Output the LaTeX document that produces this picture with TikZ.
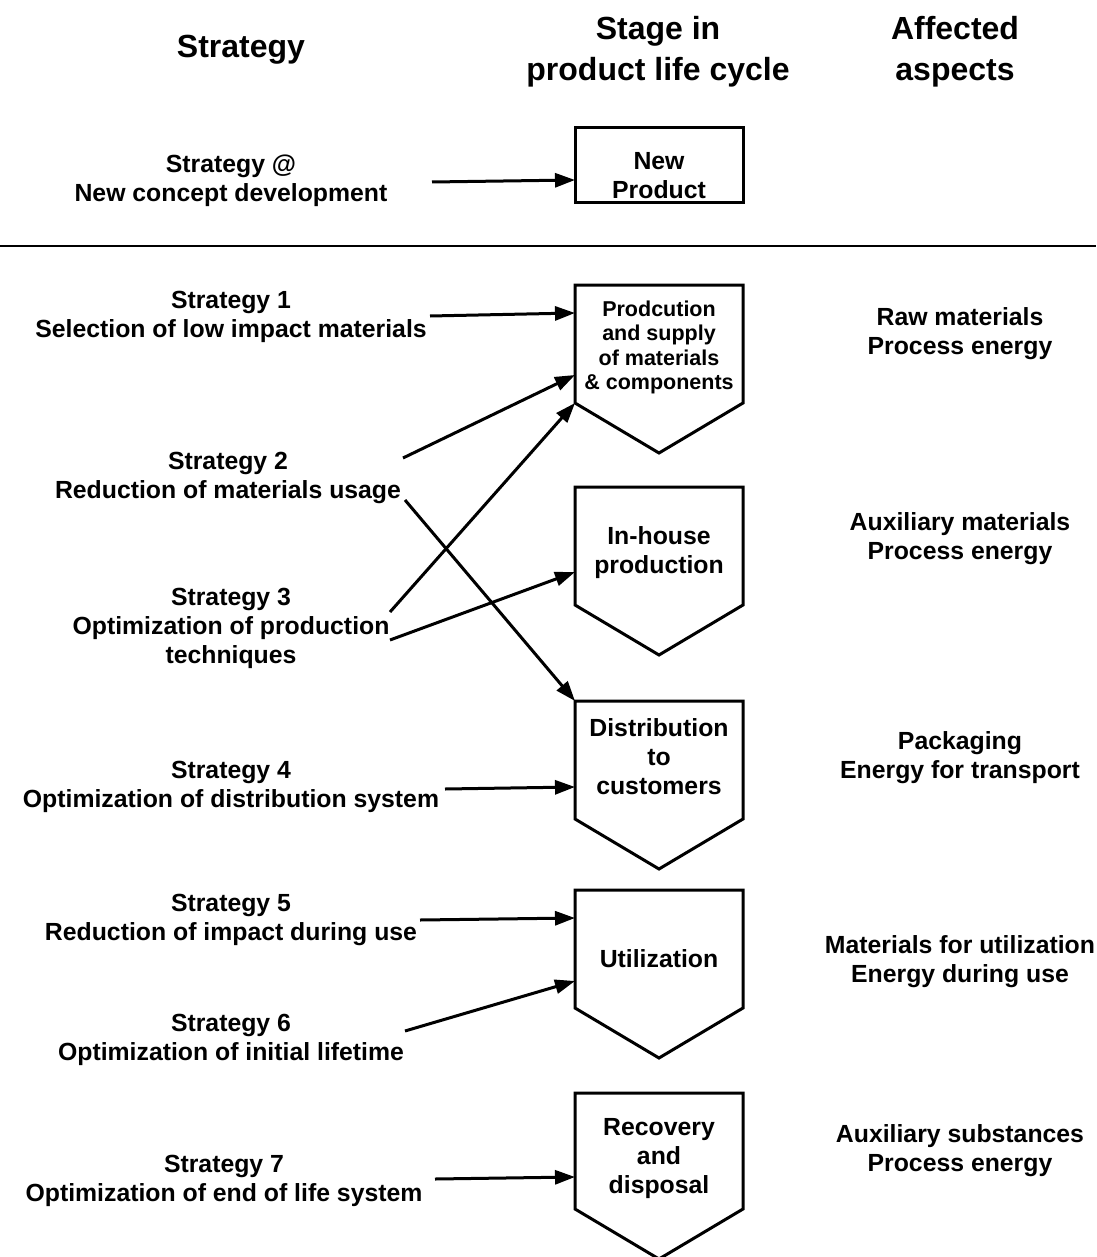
\documentclass[tikz,border=0pt]{standalone}
\usepackage{fontspec}
\setmainfont{Liberation Sans}
\usetikzlibrary{arrows.meta,calc}
\begin{document}
\begin{tikzpicture}[x=1pt,y=-1pt,
  txt/.style={align=center,inner sep=0pt,font=\fontsize{24.8}{29}\selectfont\bfseries},
  smalltxt/.style={align=center,inner sep=0pt,font=\fontsize{21.5}{24.5}\selectfont\bfseries},
  head/.style={align=center,inner sep=0pt,font=\fontsize{32}{41}\selectfont\bfseries},
  stagebox/.style={minimum width=168pt,inner sep=0pt,outer sep=0pt},
  outline/.style={line width=3pt,line join=miter},
  arr/.style={line width=3pt,-{Triangle[length=20pt,width=14pt]}}]
\useasboundingbox (0,0) rectangle (1096,1257);

% column headings
\node[head] (h1) at (241,50) {Strategy};
\node[head] (h2) at (658,51.5) {Stage in\\product life cycle};
\node[head] (h3) at (955,51.5) {Affected\\aspects};

% separator between new concept and the life-cycle strategies
\draw[line width=2.5pt] (0,246) -- (1096,246);

% life-cycle stage boxes
\node[stagebox,minimum height=75pt] (np) at (659,165.5) {};
\draw[outline] (np.north west) rectangle (np.south east);
\node[txt] (lnp) at (659,176) {New\\Product};

\foreach \n/\y/\h in {bp/344/118, bi/546/118, bd/760/118, bu/949/118, br/1151/116}{
  \node[stagebox,minimum height=\h pt] (\n) at (659,\y) {};
  \draw[outline] (\n.north west) -- (\n.north east) -- (\n.south east)
    -- ($(\n.south)+(0,50)$) -- (\n.south west) -- cycle;
}
\node[smalltxt] (lbp) at (659,347.5) {Prodcution\\and supply\\of materials\\\& components};
\node[txt] (lbi) at (659,553) {In-house\\production};
\node[txt] (lbd) at (659,757) {Distribution\\to\\customers};
\node[txt] (lbu) at (659,958.5) {Utilization};
\node[txt] (lbr) at (659,1159) {Recovery\\and\\disposal};

% strategies
\node[txt] (s0) at (231,180.8) {Strategy @\\New concept development};
\node[txt] (s1) at (231,317) {Strategy 1\\Selection of low impact materials};
\node[txt] (s2) at (228,477.5) {Strategy 2\\Reduction of materials usage};
\node[txt] (s3) at (231,628) {Strategy 3\\Optimization of production\\techniques};
\node[txt] (s4) at (231,787) {Strategy 4\\Optimization of distribution system};
\node[txt] (s5) at (231,920) {Strategy 5\\Reduction of impact during use};
\node[txt] (s6) at (231,1039.5) {Strategy 6\\Optimization of initial lifetime};
\node[txt] (s7) at (224,1180.5) {Strategy 7\\Optimization of end of life system};

% affected aspects
\node[txt] (a1) at (960,333.5) {Raw materials\\Process energy};
\node[txt] (a2) at (960,538.5) {Auxiliary materials\\Process energy};
\node[txt] (a3) at (960,757.5) {Packaging\\Energy for transport};
\node[txt] (a4) at (960,961.5) {Materials for utilization\\Energy during use};
\node[txt] (a5) at (960,1150.5) {Auxiliary substances\\Process energy};

% arrow tails
\coordinate (t0) at (432,182);
\coordinate (t1) at (430,316);
\coordinate (t2a) at (403,458);
\coordinate (t2b) at (405,500);
\coordinate (t3a) at (390,612);
\coordinate (t3b) at (390,640);
\coordinate (t4) at (445,789);
\coordinate (t5) at (420,920);
\coordinate (t6) at (405,1031);
\coordinate (t7) at (435,1179);

% strategy arrows into the stages
\draw[arr] (t0) -- ($(np.north west)+(0,52)$);
\draw[arr] (t1) -- ($(bp.north west)+(0,28)$);
\draw[arr] (t2a) -- ($(bp.north west)+(0,90)$);
\draw[arr] (t3a) -- (bp.south west);
\draw[arr] (t3b) -- ($(bi.north west)+(0,85)$);
\draw[arr] (t2b) -- (bd.north west);
\draw[arr] (t4) -- ($(bd.north west)+(0,86)$);
\draw[arr] (t5) -- ($(bu.north west)+(0,28)$);
\draw[arr] (t6) -- ($(bu.north west)+(0,91)$);
\draw[arr] (t7) -- ($(br.north west)+(0,84)$);
\end{tikzpicture}
\end{document}
